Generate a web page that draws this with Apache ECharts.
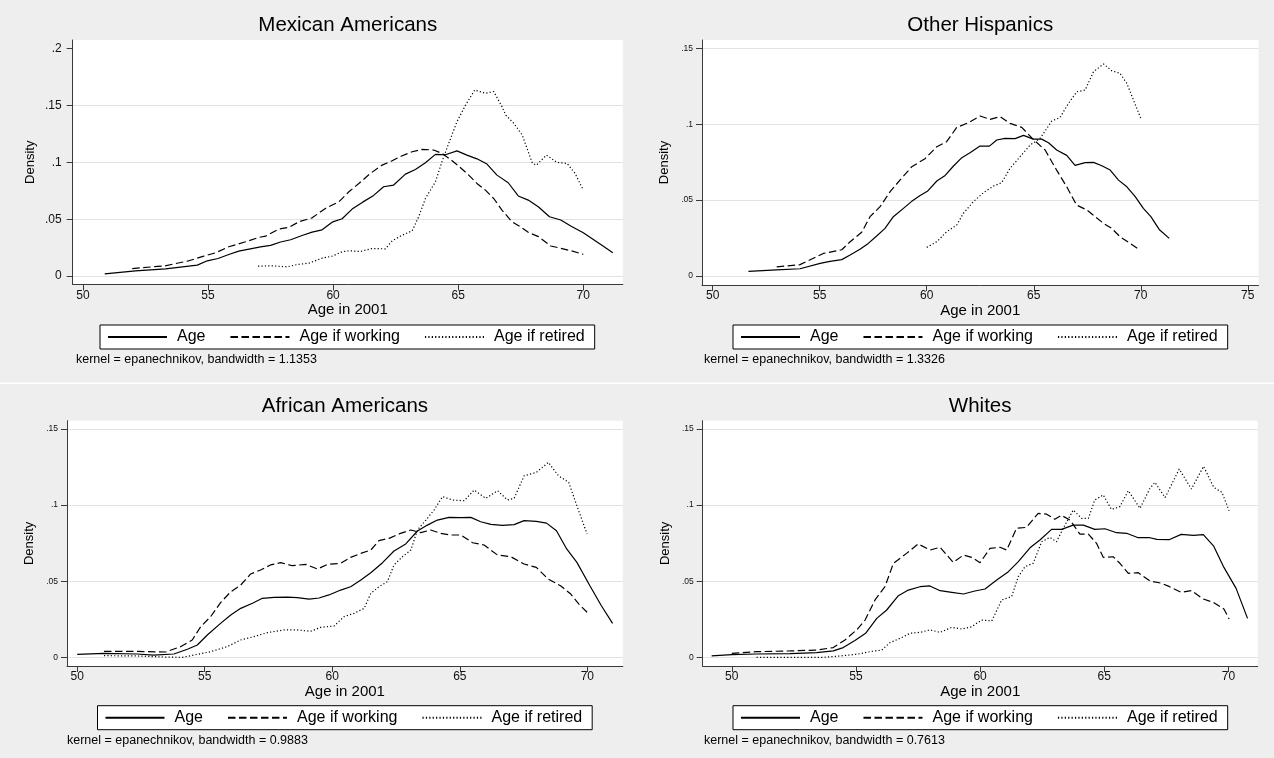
<!DOCTYPE html>
<html>
<head>
<meta charset="utf-8">
<script src="https://cdn.jsdelivr.net/npm/echarts@6/dist/echarts.min.js"></script>
<style>
  html, body { margin: 0; padding: 0; background: #eeeeee; }
  #chart { width: 1274px; height: 758px; }
</style>
</head>
<body>
<div id="chart"></div>
<script>
// Kernel density estimates of age in 2001, by group and work status
const panelTitles = ['Mexican Americans', 'Other Hispanics', 'African Americans', 'Whites'];
const bandwidths = ['1.1353', '1.3326', '0.9883', '0.7613'];
const seriesNames = ['Age', 'Age if working', 'Age if retired'];
const xTicksShort = [50, 55, 60, 65, 70];
const xTicksLong = [50, 55, 60, 65, 70, 75];
const yTicksTall = [0, 0.05, 0.1, 0.15, 0.2];
const yTicksStd = [0, 0.05, 0.1, 0.15];

// [age, density]
const mexAll = [[50.87,0.0020],[52.10,0.0047],[53.30,0.0064],[54.57,0.0097],[54.97,0.0135],[55.40,0.0155],[55.83,0.0190],[56.23,0.0220],[57.10,0.0258],[57.50,0.0270],[57.90,0.0300],[58.30,0.0320],[58.76,0.0357],[59.16,0.0387],[59.56,0.0407],[59.96,0.0474],[60.36,0.0504],[60.76,0.0589],[61.18,0.0650],[61.62,0.0709],[62.02,0.0785],[62.42,0.0800],[62.89,0.0896],[63.29,0.0937],[63.69,0.0996],[64.09,0.1069],[64.49,0.1066],[64.95,0.1100],[65.35,0.1063],[65.75,0.1030],[66.15,0.0984],[66.55,0.0887],[67.00,0.0820],[67.40,0.0704],[67.80,0.0668],[68.20,0.0610],[68.65,0.0522],[69.10,0.0493],[69.50,0.0440],[70.00,0.0382],[70.73,0.0274],[71.18,0.0206]];
const mexWork = [[51.97,0.0067],[53.28,0.0091],[54.23,0.0135],[54.83,0.0176],[55.30,0.0205],[55.83,0.0258],[56.50,0.0302],[57.03,0.0340],[57.30,0.0351],[57.83,0.0413],[58.23,0.0428],[58.63,0.0477],[59.16,0.0512],[59.69,0.0594],[60.23,0.0653],[60.63,0.0741],[61.03,0.0814],[61.49,0.0902],[61.96,0.0975],[62.36,0.1013],[62.76,0.1057],[63.16,0.1092],[63.56,0.1113],[64.02,0.1107],[64.35,0.1078],[64.69,0.1025],[65.02,0.0966],[65.42,0.0887],[65.75,0.0814],[66.09,0.0755],[66.42,0.0682],[66.75,0.0580],[67.15,0.0477],[67.48,0.0434],[67.80,0.0385],[68.21,0.0347],[68.70,0.0265],[69.10,0.0245],[69.50,0.0224],[70.00,0.0192]];
const mexRet = [[57.00,0.0088],[57.56,0.0091],[58.16,0.0082],[58.56,0.0102],[59.03,0.0114],[59.56,0.0158],[59.96,0.0176],[60.36,0.0214],[60.63,0.0223],[61.09,0.0217],[61.56,0.0243],[62.09,0.0240],[62.36,0.0310],[62.76,0.0360],[63.16,0.0398],[63.42,0.0521],[63.69,0.0682],[64.09,0.0829],[64.35,0.1004],[64.62,0.1165],[64.95,0.1356],[65.29,0.1500],[65.66,0.1634],[66.09,0.1605],[66.42,0.1620],[66.75,0.1488],[66.90,0.1414],[67.23,0.1340],[67.56,0.1239],[67.80,0.1092],[67.97,0.0990],[68.13,0.0975],[68.53,0.1063],[68.94,0.0999],[69.35,0.0990],[69.67,0.0903],[70.00,0.0756]];

const ohAll = [[51.67,0.0031],[52.99,0.0040],[54.08,0.0048],[55.02,0.0083],[55.48,0.0097],[56.03,0.0108],[56.42,0.0138],[56.88,0.0176],[57.27,0.0215],[57.66,0.0264],[58.05,0.0314],[58.44,0.0391],[58.91,0.0446],[59.30,0.0492],[59.69,0.0531],[60.03,0.0558],[60.47,0.0626],[60.86,0.0663],[61.25,0.0725],[61.64,0.0780],[62.02,0.0812],[62.49,0.0856],[62.93,0.0856],[63.27,0.0896],[63.66,0.0907],[64.13,0.0905],[64.52,0.0927],[64.98,0.0902],[65.37,0.0902],[65.69,0.0878],[66.07,0.0830],[66.54,0.0795],[66.93,0.0729],[67.40,0.0747],[67.79,0.0749],[68.18,0.0727],[68.57,0.0698],[68.96,0.0632],[69.35,0.0588],[69.74,0.0523],[70.12,0.0446],[70.48,0.0390],[70.86,0.0307],[71.33,0.0248]];
const ohWork = [[52.99,0.0061],[54.08,0.0075],[54.47,0.0101],[55.17,0.0149],[56.03,0.0173],[56.42,0.0226],[56.96,0.0288],[57.35,0.0391],[57.82,0.0457],[58.29,0.0556],[58.75,0.0632],[59.30,0.0720],[59.92,0.0773],[60.47,0.0852],[60.93,0.0885],[61.40,0.0979],[61.95,0.1010],[62.49,0.1054],[62.96,0.1032],[63.43,0.1050],[63.89,0.1006],[64.44,0.0979],[64.98,0.0900],[65.53,0.0830],[66.07,0.0698],[66.54,0.0588],[67.00,0.0468],[67.48,0.0435],[67.87,0.0391],[68.26,0.0347],[68.64,0.0314],[69.03,0.0259],[69.50,0.0215],[69.97,0.0171]];
const ohRet = [[60.00,0.0189],[60.47,0.0226],[60.93,0.0292],[61.40,0.0336],[61.71,0.0413],[62.18,0.0490],[62.65,0.0549],[63.12,0.0593],[63.50,0.0615],[63.89,0.0709],[64.36,0.0786],[64.83,0.0863],[65.30,0.0907],[65.84,0.1021],[66.23,0.1045],[66.62,0.1137],[67.01,0.1214],[67.40,0.1225],[67.79,0.1346],[68.26,0.1397],[68.64,0.1353],[69.03,0.1335],[69.35,0.1269],[69.66,0.1159],[70.00,0.1039]];

const aaAll = [[50.00,0.0020],[51.05,0.0026],[52.35,0.0022],[53.00,0.0015],[53.79,0.0022],[54.32,0.0053],[54.71,0.0081],[55.10,0.0147],[55.62,0.0223],[56.02,0.0278],[56.41,0.0322],[56.87,0.0355],[57.26,0.0388],[57.72,0.0394],[58.24,0.0396],[58.63,0.0392],[59.09,0.0383],[59.48,0.0390],[59.87,0.0410],[60.33,0.0442],[60.72,0.0464],[61.12,0.0508],[61.51,0.0556],[61.97,0.0622],[62.42,0.0699],[62.88,0.0745],[63.34,0.0830],[63.73,0.0869],[64.12,0.0902],[64.58,0.0920],[65.04,0.0918],[65.43,0.0920],[65.82,0.0891],[66.22,0.0874],[66.67,0.0867],[67.13,0.0872],[67.52,0.0898],[68.00,0.0893],[68.40,0.0882],[68.79,0.0832],[69.19,0.0712],[69.59,0.0624],[70.10,0.0470],[70.55,0.0339],[70.99,0.0223]];
const aaWork = [[51.05,0.0039],[52.35,0.0039],[53.47,0.0035],[54.05,0.0070],[54.51,0.0114],[54.84,0.0201],[55.23,0.0267],[55.62,0.0359],[56.02,0.0431],[56.41,0.0475],[56.80,0.0548],[57.19,0.0574],[57.58,0.0607],[57.98,0.0622],[58.43,0.0602],[58.96,0.0611],[59.42,0.0580],[59.81,0.0611],[60.33,0.0618],[60.72,0.0657],[61.12,0.0683],[61.51,0.0705],[61.83,0.0767],[62.23,0.0782],[62.68,0.0815],[63.08,0.0837],[63.47,0.0819],[63.86,0.0837],[64.25,0.0815],[64.65,0.0804],[65.04,0.0804],[65.50,0.0753],[65.95,0.0738],[66.48,0.0672],[67.00,0.0661],[67.52,0.0613],[68.00,0.0591],[68.47,0.0514],[68.95,0.0470],[69.35,0.0416],[69.67,0.0350],[69.99,0.0296]];
const aaRet = [[51.05,0.0011],[52.35,0.0009],[53.40,0.0002],[54.12,0.0000],[54.58,0.0015],[55.23,0.0037],[55.88,0.0070],[56.41,0.0114],[56.93,0.0136],[57.45,0.0162],[58.11,0.0180],[58.63,0.0180],[59.15,0.0171],[59.55,0.0197],[60.07,0.0206],[60.46,0.0267],[60.85,0.0289],[61.25,0.0322],[61.51,0.0420],[61.83,0.0464],[62.16,0.0497],[62.42,0.0607],[62.75,0.0661],[63.08,0.0705],[63.34,0.0837],[63.67,0.0902],[63.99,0.0968],[64.32,0.1056],[64.71,0.1034],[65.17,0.1029],[65.56,0.1099],[66.02,0.1045],[66.48,0.1095],[66.87,0.1034],[67.13,0.1045],[67.52,0.1193],[68.00,0.1215],[68.47,0.1281],[68.87,0.1193],[69.27,0.1150],[69.59,0.0996],[69.99,0.0810]];

const whAll = [[49.19,0.0009],[50.00,0.0018],[51.00,0.0022],[52.35,0.0024],[53.42,0.0031],[54.09,0.0042],[54.49,0.0064],[54.96,0.0110],[55.39,0.0158],[55.84,0.0256],[56.24,0.0311],[56.71,0.0405],[57.11,0.0442],[57.58,0.0464],[57.98,0.0469],[58.39,0.0438],[58.86,0.0427],[59.33,0.0416],[59.79,0.0436],[60.20,0.0449],[60.67,0.0508],[61.14,0.0563],[61.54,0.0629],[62.01,0.0720],[62.41,0.0771],[62.88,0.0841],[63.28,0.0841],[63.75,0.0869],[64.16,0.0869],[64.62,0.0841],[65.03,0.0845],[65.50,0.0819],[65.90,0.0815],[66.37,0.0786],[66.84,0.0786],[67.12,0.0775],[67.61,0.0773],[68.10,0.0808],[68.59,0.0801],[68.99,0.0806],[69.40,0.0733],[69.82,0.0591],[70.31,0.0453],[70.77,0.0256]];
const whWork = [[50.00,0.0026],[51.00,0.0037],[52.35,0.0042],[53.42,0.0048],[54.09,0.0064],[54.56,0.0114],[55.03,0.0180],[55.37,0.0245],[55.77,0.0377],[56.17,0.0464],[56.51,0.0618],[57.04,0.0683],[57.51,0.0745],[57.98,0.0705],[58.39,0.0723],[58.92,0.0624],[59.33,0.0672],[59.66,0.0657],[60.00,0.0622],[60.40,0.0716],[60.80,0.0723],[61.07,0.0705],[61.47,0.0848],[61.87,0.0854],[62.34,0.0946],[62.68,0.0941],[63.01,0.0907],[63.28,0.0933],[63.62,0.0902],[64.02,0.0810],[64.36,0.0810],[64.69,0.0749],[64.96,0.0657],[65.36,0.0661],[65.63,0.0618],[65.97,0.0552],[66.37,0.0556],[66.84,0.0502],[67.28,0.0488],[67.61,0.0466],[68.10,0.0427],[68.51,0.0438],[68.99,0.0383],[69.40,0.0361],[69.82,0.0317],[70.03,0.0252]];
const whRet = [[51.00,0.0000],[52.35,0.0000],[53.69,0.0000],[54.36,0.0009],[55.03,0.0020],[55.57,0.0037],[56.04,0.0048],[56.37,0.0096],[56.78,0.0125],[57.18,0.0158],[57.58,0.0164],[57.98,0.0180],[58.39,0.0164],[58.86,0.0197],[59.26,0.0186],[59.66,0.0201],[60.06,0.0245],[60.47,0.0239],[60.87,0.0377],[61.27,0.0399],[61.54,0.0530],[61.81,0.0596],[62.14,0.0618],[62.48,0.0760],[62.81,0.0788],[63.08,0.0760],[63.35,0.0848],[63.75,0.0968],[64.09,0.0913],[64.36,0.0913],[64.62,0.1034],[64.96,0.1067],[65.29,0.0972],[65.63,0.0990],[65.97,0.1095],[66.44,0.0979],[66.84,0.1110],[67.04,0.1150],[67.45,0.1050],[68.02,0.1237],[68.51,0.1106],[69.00,0.1255],[69.41,0.1117],[69.74,0.1084],[70.03,0.0963]];

const groupSeries = [
  [mexAll, mexWork, mexRet],
  [ohAll, ohWork, ohRet],
  [aaAll, aaWork, aaRet],
  [whAll, whWork, whRet]
];

// Plot-region geometry and axis extents for each panel of the 2x2 combination
const layout = [
  { grid: { left: 72.7, top: 40, width: 550.1, height: 244.5 }, x: [49.59, 71.58], y: [-0.0073, 0.2073],
    xTicks: xTicksShort, yTicks: yTicksTall, yFont: 12, yMargin: 11, yNameGap: 36,
    legend: { left: 100, top: 325 }, note: { x: 76, y: 360 } },
  { grid: { left: 702, top: 40, width: 556.5, height: 245 }, x: [49.5, 75.5], y: [-0.0059, 0.1555],
    xTicks: xTicksLong, yTicks: yTicksStd, yFont: 8.5, yMargin: 9, yNameGap: 31,
    legend: { left: 733, top: 325 }, note: { x: 704, y: 360 } },
  { grid: { left: 67, top: 420.7, width: 555.8, height: 245.3 }, x: [49.6, 71.39], y: [-0.0057, 0.1555],
    xTicks: xTicksShort, yTicks: yTicksStd, yFont: 8.5, yMargin: 9, yNameGap: 31,
    legend: { left: 97.5, top: 705.7 }, note: { x: 67, y: 741 } },
  { grid: { left: 702.7, top: 420.7, width: 555, height: 245.3 }, x: [48.83, 71.18], y: [-0.0057, 0.1555],
    xTicks: xTicksShort, yTicks: yTicksStd, yFont: 8.5, yMargin: 9, yNameGap: 31,
    legend: { left: 733, top: 705.7 }, note: { x: 704, y: 741 } }
];

const FONT = '"Liberation Sans", Arial, Helvetica, sans-serif';
const AXIS_COLOR = '#3a3a3a';
const GRID_COLOR = '#e2e2e2';
const lineTypes = ['solid', [7.5, 3.5], [1.2, 2.2]];

function densityLabel(v) {
  if (v === 0) return '0';
  return String(+v.toFixed(2)).replace(/^0\./, '.');
}

const grids = [], xAxes = [], yAxes = [], series = [], legends = [], titles = [], graphics = [];

layout.forEach((p, i) => {
  grids.push(Object.assign({ show: true, backgroundColor: '#ffffff', borderWidth: 0, containLabel: false }, p.grid));

  xAxes.push({
    type: 'value', gridIndex: i, min: p.x[0], max: p.x[1],
    name: 'Age in 2001', nameLocation: 'middle', nameGap: 18,
    nameTextStyle: { fontSize: 15, color: '#000', fontFamily: FONT },
    axisLine: { show: true, onZero: false, lineStyle: { color: AXIS_COLOR, width: 1 } },
    axisTick: { show: true, length: 6, customValues: p.xTicks, lineStyle: { color: AXIS_COLOR } },
    axisLabel: { customValues: p.xTicks, fontSize: 12, color: '#111', margin: 5, fontFamily: FONT },
    splitLine: { show: false }
  });

  // main density axis: line, ticks, labels
  yAxes.push({
    type: 'value', gridIndex: i, min: p.y[0], max: p.y[1], position: 'left',
    name: 'Density', nameLocation: 'middle', nameGap: p.yNameGap, nameRotate: 90,
    nameTextStyle: { fontSize: 13, color: '#000', fontFamily: FONT },
    axisLine: { show: true, onZero: false, lineStyle: { color: AXIS_COLOR, width: 1 } },
    axisTick: { show: true, length: 6, customValues: p.yTicks, lineStyle: { color: AXIS_COLOR } },
    axisLabel: { customValues: p.yTicks, fontSize: p.yFont, color: '#111', margin: p.yMargin,
                 fontFamily: FONT, formatter: densityLabel },
    splitLine: { show: false }
  });
  // companion axis carrying only the horizontal grid lines
  yAxes.push({
    type: 'value', gridIndex: i, min: p.y[0], max: p.y[1], position: 'left',
    axisLine: { show: false }, axisLabel: { show: false },
    axisTick: { show: false, customValues: yTicksStd },
    splitLine: { show: true, lineStyle: { color: GRID_COLOR, width: 1 } }
  });

  groupSeries[i].forEach((data, j) => {
    series.push({
      type: 'line', name: seriesNames[j], xAxisIndex: i, yAxisIndex: 2 * i,
      data: data, symbol: 'none', showSymbol: false, silent: true, smooth: false,
      itemStyle: { color: '#000' },
      lineStyle: { color: '#000', width: 1.2, type: lineTypes[j] }
    });
  });

  legends.push({
    left: p.legend.left, top: p.legend.top, orient: 'horizontal', selectedMode: false,
    data: seriesNames, itemWidth: 59, itemHeight: 12, itemGap: 24,
    itemStyle: { opacity: 0 },
    textStyle: { fontSize: 16, color: '#000', fontFamily: FONT, padding: [0, 0, 0, 5] },
    backgroundColor: '#ffffff', borderColor: '#000', borderWidth: 1, borderRadius: 0,
    padding: [4, 10, 4, 7]
  });

  titles.push({
    text: panelTitles[i], left: p.grid.left + p.grid.width / 2, top: p.grid.top - 25,
    textAlign: 'center', padding: 0,
    textStyle: { fontSize: 20.5, fontWeight: 'normal', color: '#000', fontFamily: FONT }
  });

  graphics.push({
    type: 'text', x: p.note.x, y: p.note.y, silent: true,
    style: { text: 'kernel = epanechnikov, bandwidth = ' + bandwidths[i], fill: '#000',
             font: '12.5px ' + FONT, verticalAlign: 'middle', align: 'left' }
  });
});

// thin light rule between the upper and lower rows
graphics.push({ type: 'rect', shape: { x: 0, y: 382.5, width: 1274, height: 1.5 }, style: { fill: '#ffffff' }, silent: true, z: -1 });

const chart = echarts.init(document.getElementById('chart'), null, { renderer: 'canvas' });
chart.setOption({
  backgroundColor: '#eeeeee',
  animation: false,
  textStyle: { fontFamily: FONT },
  title: titles,
  grid: grids,
  xAxis: xAxes,
  yAxis: yAxes,
  legend: legends,
  series: series,
  graphic: graphics
});
</script>
</body>
</html>
